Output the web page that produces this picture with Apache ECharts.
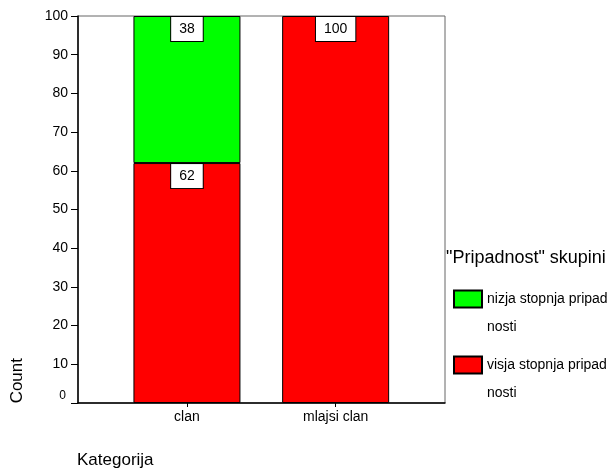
<!DOCTYPE html>
<html><head><meta charset="utf-8">
<script src="https://cdn.jsdelivr.net/npm/echarts@6/dist/echarts.min.js"></script>
<style>html,body{margin:0;padding:0;background:#fff}#c{width:610px;height:470px}</style>
</head><body><div id="c"></div>
<script>
const categories = ['clan', 'mlajsi clan'];
const seriesNames = ['nizja stopnja pripad\nnosti', 'visja stopnja pripad\nnosti'];
const nizjaValues = [38, null];
const visjaValues = [62, 100];
const yTicks = [0, 10, 20, 30, 40, 50, 60, 70, 80, 90, 100];

const FONT = '"Liberation Sans", Arial, sans-serif';
const chart = echarts.init(document.getElementById('c'), null, {renderer: 'canvas'});

const labelStyle = {
  show: true, position: 'insideTop', distance: 1,
  backgroundColor: '#fff', borderColor: '#000', borderWidth: 1,
  padding: [5, 8, 5, 8], color: '#000', fontSize: 14, fontFamily: FONT
};

chart.setOption({
  animation: false,
  backgroundColor: '#fff',
  title: {
    text: '"Pripadnost" skupini', left: 446, top: 249,
    padding: 0,
    textStyle: {fontSize: 18, fontWeight: 'normal', color: '#000', fontFamily: FONT}
  },
  legend: {
    orient: 'vertical', left: 453, top: 257, padding: 0,
    itemWidth: 28, itemHeight: 17, itemGap: -18,
    icon: 'rect',
    data: [seriesNames[0], seriesNames[1]],
    formatter: name => '\n' + name,
    textStyle: {fontSize: 14, color: '#000', fontFamily: FONT, lineHeight: 28},
    selectedMode: false
  },
  graphic: [
    {type: 'text', left: 9, top: 358, rotation: Math.PI / 2,
     style: {text: 'Count', fill: '#000', font: '17px ' + FONT}},
    {type: 'text', left: 77, top: 452,
     style: {text: 'Kategorija', fill: '#000', font: '17px ' + FONT}}
  ],
  grid: [
    {left: 78, right: 165, top: 16, bottom: 67, show: true, borderColor: '#666', borderWidth: 1, backgroundColor: 'transparent'},
    {left: 112.6, right: 200, top: 16, bottom: 67}
  ],
  xAxis: [
    {type: 'category', gridIndex: 0, data: [''], axisLine: {show: true, lineStyle: {color: '#000', width: 1.5}},
     axisTick: {show: false}, axisLabel: {show: false}, splitLine: {show: false}},
    {type: 'category', gridIndex: 1, data: categories,
     axisLine: {show: false},
     axisTick: {show: true, alignWithLabel: true, length: 4, lineStyle: {color: '#000'}},
     axisLabel: {color: '#000', fontSize: 14, fontFamily: FONT, margin: 7}}
  ],
  yAxis: [
    {type: 'value', gridIndex: 0, min: 0, max: 100, interval: 10,
     axisLine: {show: true, lineStyle: {color: '#000', width: 1.5}},
     axisTick: {show: true, length: 7, lineStyle: {color: '#000'}},
     axisLabel: {color: '#000', fontSize: 14, fontFamily: FONT, margin: 10,
       formatter: v => v === 0 ? '{z|0}' : String(v),
       rich: {z: {fontSize: 12, color: '#000', fontFamily: FONT, padding: [0, 2, 14, 0]}}},
     splitLine: {show: false}},
    {type: 'value', gridIndex: 1, min: 0, max: 100, show: false}
  ],
  series: [
    {name: seriesNames[1], type: 'bar', xAxisIndex: 1, yAxisIndex: 1, stack: 's',
     barWidth: 107, data: visjaValues,
     itemStyle: {color: '#ff0000', borderColor: '#000', borderWidth: 1},
     label: labelStyle},
    {name: seriesNames[0], type: 'bar', xAxisIndex: 1, yAxisIndex: 1, stack: 's',
     barWidth: 107, data: nizjaValues,
     itemStyle: {color: '#00ff00', borderColor: '#000', borderWidth: 1},
     label: labelStyle}
  ]
});
</script></body></html>
